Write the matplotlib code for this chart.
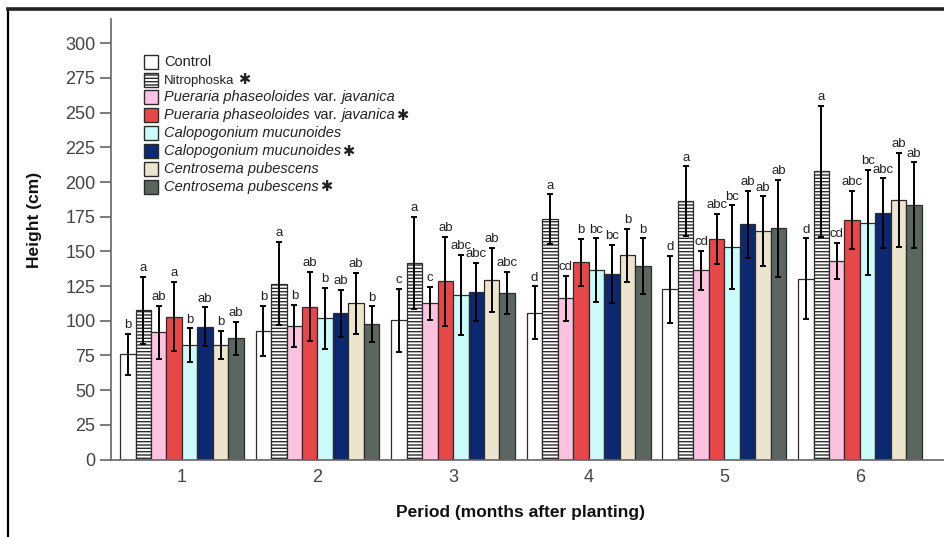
import numpy as np
import matplotlib.pyplot as plt
from matplotlib.patches import Rectangle
from matplotlib.lines import Line2D
from matplotlib.transforms import IdentityTransform

plt.rcParams['font.family'] = ['Liberation Sans', 'DejaVu Sans']
plt.rcParams['hatch.linewidth'] = 1.0

periods = np.array([1, 2, 3, 4, 5, 6])

# mean height (cm) per treatment, periods 1..6
control = [75.7, 92.8, 100.2, 105.8, 122.6, 130.3]
nitrophoska = [107.4, 126.7, 141.8, 173.1, 186.3, 207.7]
pueraria = [91.6, 96.4, 112.5, 116.1, 136.3, 143.3]
pueraria_s = [103.0, 110.1, 128.4, 142.1, 159.1, 172.4]
calopo = [82.5, 101.9, 118.5, 136.3, 153.1, 170.7]
calopo_s = [95.7, 105.5, 120.9, 133.9, 169.5, 177.6]
centro = [82.5, 112.5, 129.3, 147.1, 164.6, 187.0]
centro_s = [87.3, 97.4, 120.2, 139.4, 166.8, 183.2]

# standard deviations
control_err = [15, 18, 23, 19, 24, 29]
nitrophoska_err = [24, 30, 33, 18, 25, 47]
pueraria_err = [19, 15, 12, 16, 14, 13]
pueraria_s_err = [25, 25, 32, 17, 18, 21]
calopo_err = [12, 22, 29, 23, 30, 38]
calopo_s_err = [14, 17, 21, 21, 24, 25]
centro_err = [10, 22, 23, 19, 25, 34]
centro_s_err = [12, 13, 15, 20, 35, 31]

# significance letters
control_let = ['b', 'b', 'c', 'd', 'd', 'd']
nitrophoska_let = ['a', 'a', 'a', 'a', 'a', 'a']
pueraria_let = ['ab', 'b', 'c', 'cd', 'cd', 'cd']
pueraria_s_let = ['a', 'ab', 'ab', 'b', 'abc', 'abc']
calopo_let = ['b', 'b', 'abc', 'bc', 'bc', 'bc']
calopo_s_let = ['ab', 'ab', 'abc', 'bc', 'ab', 'abc']
centro_let = ['b', 'ab', 'ab', 'b', 'ab', 'ab']
centro_s_let = ['ab', 'b', 'abc', 'b', 'ab', 'ab']

heights = [control, nitrophoska, pueraria, pueraria_s, calopo, calopo_s, centro, centro_s]
errors = [control_err, nitrophoska_err, pueraria_err, pueraria_s_err,
          calopo_err, calopo_s_err, centro_err, centro_s_err]
letters = [control_let, nitrophoska_let, pueraria_let, pueraria_s_let,
           calopo_let, calopo_s_let, centro_let, centro_s_let]

colors = ['white', 'white', '#FCC2E0', '#E8474A', '#CCFBFB', '#0B2870', '#ECE4CC', '#5B6660']
hatches = [None, '-----', None, None, None, None, None, None]

# legend labels: (text, italic) pieces, plus asterisk flag
legend_pieces = [
    [('Control', False)],
    [('Nitrophoska', False)],
    [('Pueraria phaseoloides', True), ('var.', False), ('javanica', True)],
    [('Pueraria phaseoloides', True), ('var.', False), ('javanica', True)],
    [('Calopogonium mucunoides', True)],
    [('Calopogonium mucunoides', True)],
    [('Centrosema pubescens', True)],
    [('Centrosema pubescens', True)],
]
starred = [False, True, False, True, False, True, False, True]

W, H = 944, 537
fig = plt.figure(figsize=(W / 100, H / 100), dpi=100)
ax = fig.add_axes([110.7 / W, 77.5 / H, (W - 110.7) / W, 440.5 / H])

w = 0.114
for i in range(8):
    x = periods + (i - 3.5) * w
    ax.bar(x, heights[i], w, color=colors[i], edgecolor='#2b2b2b', linewidth=0.9,
           hatch=hatches[i], zorder=2)
    ax.errorbar(x, heights[i], yerr=errors[i], fmt='none', ecolor='black',
                elinewidth=1.4, capsize=2, capthick=1.4, zorder=3)
    for xi, h, e, lab in zip(x, heights[i], errors[i], letters[i]):
        ax.annotate(lab, (xi, h + e), xytext=(0, 2), textcoords='offset points',
                    ha='center', va='bottom', fontsize=9.5, color='#222222')

ax.set_xlim(0.475, 6.62)
ax.set_ylim(0, 317.5)
ax.set_yticks(np.arange(0, 301, 25))
ax.set_xticks(periods)
for s in ['top', 'right']:
    ax.spines[s].set_visible(False)
for s in ['left', 'bottom']:
    ax.spines[s].set_color('#666666')
    ax.spines[s].set_linewidth(1.2)
ax.tick_params(axis='y', length=8, width=1.2, color='#666666', labelcolor='#444444',
               labelsize=13, pad=3)
ax.tick_params(axis='x', length=0, labelcolor='#444444', labelsize=13, pad=7)

fig.text(521 / W, 1 - 512 / H, 'Period (months after planting)', ha='center', va='center',
         fontsize=12.5, fontweight='bold', color='#111111')
fig.text(35 / W, 1 - 220 / H, 'Height (cm)', ha='center', va='center', rotation=90,
         fontsize=12.5, fontweight='bold', color='#111111')

# outer frame (top and left)
fig.add_artist(Line2D([8 / W, 8 / W], [0, 1 - 9 / H], transform=fig.transFigure,
                      color='black', lw=1.6))
fig.add_artist(Line2D([8 / W, 1], [1 - 9 / H, 1 - 9 / H], transform=fig.transFigure,
                      color='#222222', lw=2.6))

# manual legend in pixel coordinates
renderer = fig.canvas.get_renderer()
ident = IdentityTransform()
row0, step = 61.7, 17.86
for i in range(8):
    cy = H - (row0 + i * step)
    fig.add_artist(Rectangle((144, cy - 7), 14, 14, transform=ident, facecolor=colors[i],
                             edgecolor='#2b2b2b', linewidth=1.0, hatch=hatches[i]))
    xpos = 164
    for j, (txt, ital) in enumerate(legend_pieces[i]):
        if j > 0:
            xpos += 4
        size = 9.5 if i == 1 else 10.5
        t = fig.text(xpos, cy - 4, txt, transform=ident, ha='left', va='baseline',
                     fontsize=size, style='italic' if ital else 'normal', color='#222222')
        xpos += t.get_window_extent(renderer).width
    if starred[i]:
        gap = 4 if i == 1 else 1
        fig.text(xpos + gap, cy, '\u2731', transform=ident, ha='left', va='center',
                 fontsize=10.5, family=['DejaVu Sans'], color='#222222')

fig.savefig('out.png', dpi=100)
